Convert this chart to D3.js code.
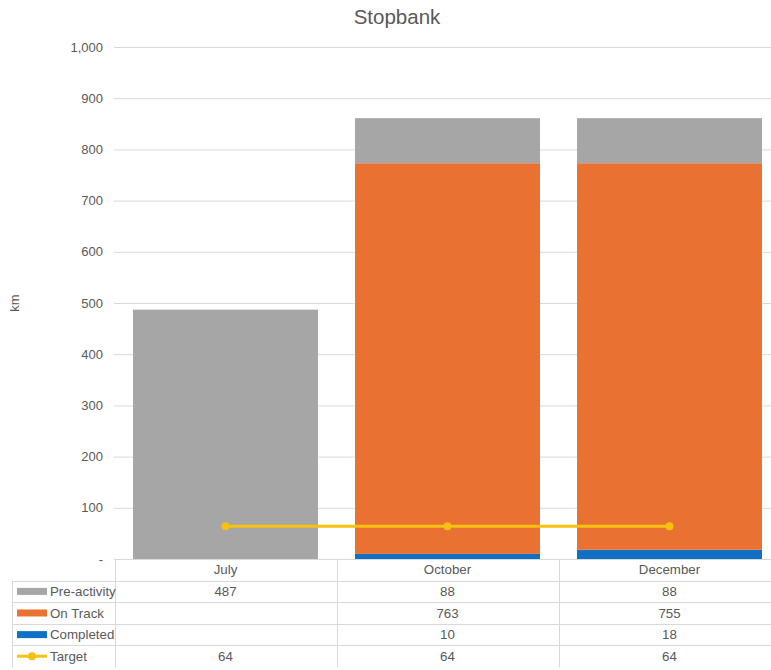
<!DOCTYPE html>
<html>
<head>
<meta charset="utf-8">
<script src="https://cdn.jsdelivr.net/npm/d3@7"></script>
<style>
  body { margin: 0; background: #fff; }
  svg { display: block; font-family: "Liberation Sans", Arial, sans-serif; }
</style>
</head>
<body>
<div id="chart"></div>
<script>
const months = ["July", "October", "December"];
const preActivity = [487, 88, 88];
const onTrack = [null, 763, 755];
const completed = [null, 10, 18];
const target = [64, 64, 64];
const yTicks = [0, 100, 200, 300, 400, 500, 600, 700, 800, 900, 1000];

const width = 771, height = 670;
const textColor = "#595959";
const gridColor = "#d9d9d9";

// series listed bottom to top in the stack
const series = [
  { name: "Completed", values: completed, color: "#1070c4" },
  { name: "On Track", values: onTrack, color: "#e97132" },
  { name: "Pre-activity", values: preActivity, color: "#a6a6a6" }
];
// table rows, top to bottom
const tableRows = [
  { name: "Pre-activity", values: preActivity, color: "#a6a6a6", type: "bar" },
  { name: "On Track", values: onTrack, color: "#e97132", type: "bar" },
  { name: "Completed", values: completed, color: "#1070c4", type: "bar" },
  { name: "Target", values: target, color: "#f5c211", type: "line" }
];

const svg = d3.select("#chart").append("svg")
  .attr("width", width).attr("height", height);

const x = d3.scaleBand().domain(months).range([114.5, 780.5]).paddingInner(0).paddingOuter(0);
const y = d3.scaleLinear().domain([0, 1000]).range([559, 47]);
const barInset = 18.5;

// title
svg.append("text")
  .attr("x", 397).attr("y", 24)
  .attr("text-anchor", "middle")
  .attr("font-size", 20.5).attr("fill", textColor)
  .text("Stopbank");

// y title
svg.append("text")
  .attr("transform", "translate(19,303) rotate(-90)")
  .attr("text-anchor", "middle")
  .attr("font-size", 13).attr("fill", textColor)
  .text("km");

// grid + tick labels
const yAxis = d3.axisLeft(y).tickValues(yTicks)
  .tickSize(-(width - 114))
  .tickPadding(11)
  .tickFormat(d => d === 0 ? "-" : d3.format(",")(d));
const gy = svg.append("g").attr("transform", "translate(114,0)").call(yAxis);
gy.select(".domain").remove();
gy.selectAll(".tick line").attr("stroke", gridColor);
gy.selectAll(".tick text").attr("fill", textColor).attr("font-size", 13);

// stacked bars
const stackData = months.map((m, i) => {
  const o = { month: m };
  series.forEach(s => { o[s.name] = s.values[i] || 0; });
  return o;
});
const stack = d3.stack().keys(series.map(s => s.name))(stackData);
svg.append("g").selectAll("g").data(stack).join("g")
  .attr("fill", (d, i) => series[i].color)
  .selectAll("rect").data(d => d).join("rect")
  .attr("x", d => x(d.data.month) + barInset)
  .attr("width", x.bandwidth() - 2 * barInset)
  .attr("y", d => y(d[1]))
  .attr("height", d => y(d[0]) - y(d[1]));

// target line
const line = d3.line().x((d, i) => x(months[i]) + x.bandwidth() / 2).y(d => y(d));
svg.append("path").datum(target)
  .attr("d", line).attr("fill", "none")
  .attr("stroke", "#f5c211").attr("stroke-width", 3);
svg.append("g").selectAll("circle").data(target).join("circle")
  .attr("cx", (d, i) => x(months[i]) + x.bandwidth() / 2)
  .attr("cy", d => y(d)).attr("r", 4)
  .attr("fill", "#f5c211");

// data table
const rowH = 21.6;
const tableTop = 559;
const legendLeft = 12;
const tbl = svg.append("g").attr("font-size", 13.3).attr("fill", textColor);
const nRows = tableRows.length + 1;

// horizontal lines
tbl.append("line")
  .attr("x1", 114.5).attr("x2", width).attr("y1", tableTop + 0.5).attr("y2", tableTop + 0.5)
  .attr("stroke", gridColor);
for (let r = 1; r <= tableRows.length; r++) {
  const yy = Math.round(tableTop + r * rowH) + 0.5;
  tbl.append("line")
    .attr("x1", legendLeft).attr("x2", width).attr("y1", yy).attr("y2", yy)
    .attr("stroke", gridColor);
}
// vertical lines
const tableBottom = Math.round(tableTop + nRows * rowH) + 0.5;
tbl.append("line")
  .attr("x1", legendLeft + 0.5).attr("x2", legendLeft + 0.5)
  .attr("y1", Math.round(tableTop + rowH) + 0.5).attr("y2", tableBottom)
  .attr("stroke", gridColor);
months.forEach(m => {
  const xx = Math.round(x(m)) + 0.5;
  tbl.append("line")
    .attr("x1", xx).attr("x2", xx).attr("y1", tableTop).attr("y2", tableBottom)
    .attr("stroke", gridColor);
});

// header
tbl.selectAll("text.hdr").data(months).join("text")
  .attr("class", "hdr")
  .attr("x", d => x(d) + x.bandwidth() / 2)
  .attr("y", tableTop + rowH / 2 + 4.5)
  .attr("text-anchor", "middle").attr("fill", textColor)
  .text(d => d);

// rows
tableRows.forEach((row, r) => {
  const cy = tableTop + (r + 1.5) * rowH;
  if (row.type === "bar") {
    tbl.append("rect")
      .attr("x", 17).attr("y", cy - 3.5).attr("width", 30).attr("height", 7)
      .attr("fill", row.color);
  } else {
    tbl.append("line")
      .attr("x1", 17).attr("x2", 47).attr("y1", cy).attr("y2", cy)
      .attr("stroke", row.color).attr("stroke-width", 3);
    tbl.append("circle").attr("cx", 32).attr("cy", cy).attr("r", 4).attr("fill", row.color);
  }
  tbl.append("text")
    .attr("x", 50).attr("y", cy + 4.5).attr("fill", textColor)
    .text(row.name);
  row.values.forEach((v, i) => {
    if (v == null) return;
    tbl.append("text")
      .attr("x", x(months[i]) + x.bandwidth() / 2)
      .attr("y", cy + 4.5)
      .attr("text-anchor", "middle").attr("fill", textColor)
      .text(v);
  });
});
</script>
</body>
</html>
